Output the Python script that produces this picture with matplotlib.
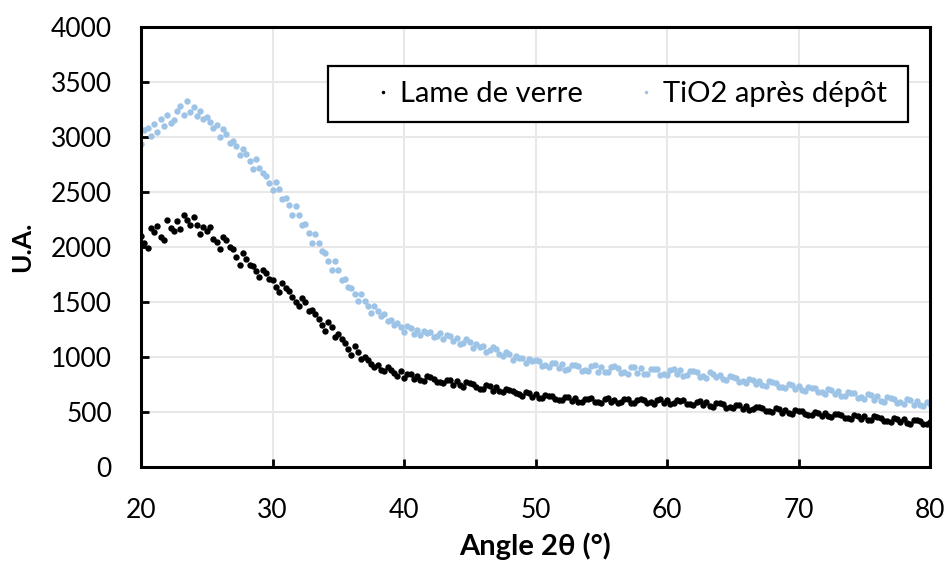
import numpy as np
import matplotlib
matplotlib.use("Agg")
import matplotlib.pyplot as plt
from matplotlib.patches import Rectangle

lame_de_verre = [
    2100, 2040, 1990, 2170, 2140, 2190, 2090, 2060, 2250, 2170, 2150, 2240,
    2160, 2290, 2250, 2200, 2270, 2200, 2120, 2180, 2150, 2180, 2070, 2050,
    1980, 2090, 2060, 2000, 1980, 1910, 1840, 1950, 1890, 1840, 1830, 1780,
    1730, 1790, 1760, 1710, 1700, 1640, 1590, 1670, 1630, 1600, 1550, 1500,
    1460, 1540, 1500, 1420, 1430, 1390, 1350, 1290, 1240, 1320, 1270, 1180,
    1210, 1160, 1130, 1070, 1020, 1100, 1050, 980, 1000, 970, 940, 910,
    930, 880, 870, 905, 880, 855, 830, 870, 810, 850, 845, 800,
    830, 790, 780, 825, 815, 800, 770, 775, 760, 795, 790, 745,
    780, 745, 730, 770, 760, 755, 725, 710, 705, 745, 735, 695,
    725, 690, 680, 710, 700, 695, 670, 660, 650, 680, 675, 640,
    665, 630, 625, 655, 645, 650, 615, 610, 605, 635, 640, 600,
    630, 595, 590, 620, 620, 625, 590, 595, 585, 615, 625, 590,
    610, 580, 595, 615, 620, 585, 580, 610, 615, 605, 580, 590,
    575, 610, 615, 580, 605, 575, 580, 610, 600, 605, 570, 575,
    560, 595, 600, 565, 590, 555, 550, 580, 580, 570, 540, 545,
    535, 565, 560, 530, 555, 520, 525, 550, 545, 540, 510, 505,
    500, 535, 525, 495, 520, 490, 485, 515, 510, 505, 480, 475,
    470, 500, 495, 465, 490, 460, 455, 485, 480, 475, 450, 445,
    440, 470, 465, 435, 465, 430, 425, 460, 455, 450, 420, 415,
    410, 445, 440, 405, 435, 400, 395, 430, 425, 420, 395, 390,
    410,
]

tio2_apres_depot = [
    2940, 3060, 3080, 3010, 3120, 3050, 3160, 3100, 3200, 3130, 3150, 3240,
    3280, 3200, 3330, 3230, 3270, 3190, 3240, 3160, 3180, 3140, 3080, 3110,
    3000, 3070, 3030, 2950, 2960, 2920, 2840, 2890, 2850, 2780, 2710, 2800,
    2720, 2670, 2650, 2580, 2520, 2590, 2530, 2440, 2450, 2380, 2290, 2370,
    2290, 2200, 2210, 2130, 2040, 2120, 2040, 1960, 1950, 1870, 1790, 1870,
    1790, 1700, 1710, 1640, 1630, 1570, 1510, 1570, 1510, 1460, 1400, 1460,
    1420, 1370, 1390, 1330, 1340, 1290, 1310, 1270, 1230, 1280, 1260, 1210,
    1250, 1200, 1240, 1220, 1230, 1180, 1190, 1220, 1160, 1200, 1190, 1150,
    1170, 1120, 1130, 1160, 1140, 1080, 1120, 1090, 1100, 1050, 1060, 1090,
    1070, 1030, 1010, 1050, 1030, 975, 1010, 990, 995, 945, 985, 960,
    970, 960, 915, 930, 905, 950, 945, 900, 940, 885, 890, 930,
    925, 920, 875, 880, 870, 915, 925, 865, 910, 860, 865, 905,
    915, 900, 855, 860, 850, 905, 910, 855, 900, 850, 845, 895,
    890, 890, 840, 850, 835, 880, 890, 845, 880, 830, 835, 870,
    870, 860, 820, 830, 810, 860, 850, 815, 840, 800, 790, 830,
    820, 810, 770, 780, 760, 800, 795, 755, 785, 745, 740, 780,
    770, 760, 725, 730, 715, 755, 745, 710, 740, 700, 695, 730,
    720, 715, 680, 685, 665, 710, 700, 660, 690, 650, 645, 685,
    675, 670, 630, 635, 615, 660, 655, 610, 645, 600, 595, 640,
    630, 620, 585, 590, 570, 615, 610, 565, 600, 560, 555, 595,
    570,
]

angle_min, angle_max = 20, 80
angles = np.linspace(angle_min, angle_max, len(lame_de_verre))

plt.rcParams["font.family"] = ["Lato", "DejaVu Sans"]

fig = plt.figure(figsize=(9.47, 5.66), dpi=100)
ax = fig.add_axes([0.1489, 0.1749, 0.8332, 0.7774])

ax.plot(angles, lame_de_verre, "o", ls="none", color="black",
        markersize=4.6, markeredgewidth=0, label="Lame de verre", zorder=3)
ax.plot(np.linspace(angle_min, angle_max, len(tio2_apres_depot)), tio2_apres_depot,
        "o", ls="none", color="#9dc3e6", markersize=4.6, markeredgewidth=0,
        label="TiO2 après dépôt", zorder=2)

ax.set_xlim(20, 80)
ax.set_ylim(0, 4000)
ax.set_xticks(range(20, 81, 10))
ax.set_yticks(range(0, 4001, 500))
ax.grid(True, color="#e8e8e8", lw=1.5, zorder=0)
ax.set_axisbelow(True)

for sp in ax.spines.values():
    sp.set_linewidth(2.2)
    sp.set_color("black")

ax.tick_params(direction="in", length=6, width=2, labelsize=19,
               top=False, right=False)
ax.tick_params(axis="x", pad=22)
ax.tick_params(axis="y", pad=21)

ax.set_xlabel("Angle 2θ (°)", fontsize=21, fontweight="bold", labelpad=7)
ax.set_ylabel("U.A.", fontsize=19, fontweight="bold", labelpad=12)

# legend box drawn as a plain rectangle so the padding can follow the original
ax.add_patch(Rectangle((0.237, 0.784), 0.735, 0.127, transform=ax.transAxes,
                       facecolor="white", edgecolor="black", lw=1.6, zorder=5))
leg = ax.legend(loc="center left", bbox_to_anchor=(0.2953, 0.848), ncol=2,
                fontsize=21, frameon=False, markerscale=0.55,
                handlelength=0.6, handletextpad=0.3, columnspacing=1.85,
                borderpad=0, borderaxespad=0)
leg.set_zorder(6)

fig.savefig("out.png", dpi=100)
